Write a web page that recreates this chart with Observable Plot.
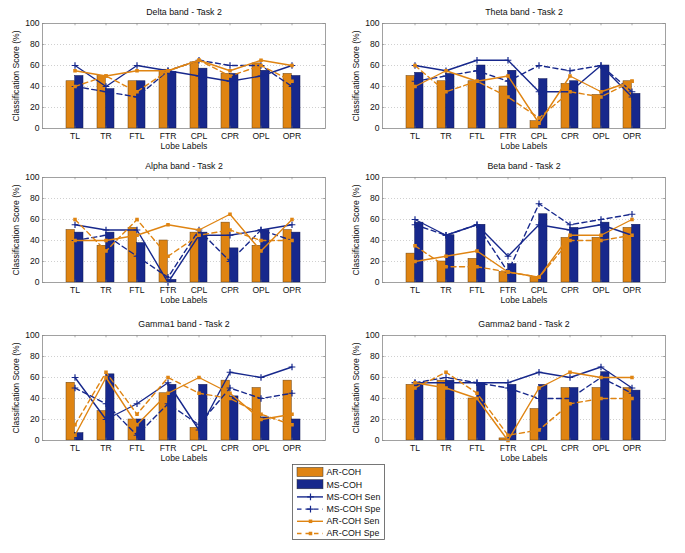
<!DOCTYPE html>
<html><head><meta charset="utf-8">
<script src="https://cdn.jsdelivr.net/npm/d3@7"></script>
<script src="https://cdn.jsdelivr.net/npm/@observablehq/plot@0.6"></script>
<style>
body{margin:0;background:#fff;}
#wrap{position:relative;width:685px;height:553px;overflow:hidden;background:#fff;}
.panel{position:absolute;}
.panel svg{overflow:visible;background:transparent;}
</style></head><body><div id="wrap"></div>
<script>
const lobes = ["TL","TR","FTL","FTR","CPL","CPR","OPL","OPR"];
const yTicks = [0,20,40,60,80,100];
const gridValues = [20,40,60,80];
const legendLabels = ["AR-COH","MS-COH","MS-COH Sen","MS-COH Spe","AR-COH Sen","AR-COH Spe"];

// Delta band
const deltaAR    = [45,50,45,56,63,52,62,52];
const deltaMS    = [50,37.5,45,54,57,52,55,50];
const deltaMSSen = [60,40,60,55,50,45,50,60];
const deltaMSSpe = [40,35,30,55,65,60,60,40];
const deltaARSen = [55,50,55,55,65,55,65,60];
const deltaARSpe = [40,50,35,55,65,50,60,45];
// Theta band
const thetaAR    = [50,45,45,40,7,42.5,32,45];
const thetaMS    = [53,52,60,55,47,45,60,33];
const thetaMSSen = [60,55,65,65,35,35,60,30];
const thetaMSSpe = [45,50,55,45,60,55,60,35];
const thetaARSen = [40,55,45,50,5,50,35,45];
const thetaARSpe = [60,35,45,30,10,35,30,45];
// Alpha band
const alphaAR    = [50,35,52,40,47.5,57,35,50];
const alphaMS    = [47.5,47.5,37.5,2.5,47.5,32.5,50,47.5];
const alphaMSSen = [55,50,50,0,45,45,50,55];
const alphaMSSpe = [40,45,25,5,50,20,50,40];
const alphaARSen = [40,40,45,55,50,65,30,60];
const alphaARSpe = [60,30,60,25,45,50,40,40];
// Beta band
const betaAR    = [27.5,20,22.5,10,5,42.5,42.5,52];
const betaMS    = [57,45,55,17.5,65,52,57,55];
const betaMSSen = [60,45,55,25,55,50,55,45];
const betaMSSpe = [55,45,55,10,75,55,60,65];
const betaARSen = [20,25,30,10,5,45,45,60];
const betaARSpe = [35,15,15,10,5,40,40,45];
// Gamma1 band
const gamma1AR    = [55,28,20,45,12,57,50,57];
const gamma1MS    = [7,63,20,53,53,42,22,20];
const gamma1MSSen = [60,20,35,55,10,65,60,70];
const gamma1MSSpe = [50,35,5,35,15,50,40,45];
const gamma1ARSen = [5,60,15,45,60,45,20,25];
const gamma1ARSpe = [15,65,25,60,45,40,25,15];
// Gamma2 band
const gamma2AR    = [53,57,40,2,30,50,50,50];
const gamma2MS    = [55,57,55,53,53,50,65,47.5];
const gamma2MSSen = [55,55,55,55,65,60,70,50];
const gamma2MSSpe = [55,60,55,50,40,40,60,45];
const gamma2ARSen = [55,50,40,0,50,65,60,60];
const gamma2ARSpe = [50,65,45,5,10,35,40,40];

const ORANGE = "#DF8412";
const NAVY = "#17288C";
const FONT = "'Liberation Sans', Arial, Helvetica, sans-serif";

const W = 340, ML = 42, MR = 15, MT = 23, MB = 27, H = 155;
const PW = W - ML - MR;
const PAD_IN = 0.45, PAD_OUT = 0.725;
const STEP = PW / (lobes.length - PAD_IN + 2 * PAD_OUT);
const BW = STEP * (1 - PAD_IN);

function panel(title, ar, ms, msSen, msSpe, arSen, arSpe) {
  const bars = lobes.map((l, i) => ({lobe: l, ar: ar[i], ms: ms[i]}));
  const pts = (vals) => lobes.map((l, i) => ({lobe: l, v: vals[i]}));
  const lw = 1.4;
  return Plot.plot({
    width: W, height: H,
    marginLeft: ML, marginRight: MR, marginTop: MT, marginBottom: MB,
    style: {fontFamily: FONT, fontSize: "8.6px", background: "transparent", color: "#111", overflow: "visible"},
    x: {type: "band", domain: lobes, paddingInner: PAD_IN, paddingOuter: PAD_OUT, align: 0.5, tickSize: 0, tickPadding: 4.5, label: null},
    y: {domain: [0, 100], ticks: yTicks, tickSize: 0, tickPadding: 3, label: null},
    marks: [
      Plot.ruleY(gridValues, {stroke: "#c4c4c4", strokeDasharray: "1,2", strokeWidth: 0.8}),
      Plot.barY(bars, {x: "lobe", y: "ar", fill: ORANGE, stroke: "#6a4210", strokeWidth: 0.5, insetRight: BW / 2}),
      Plot.barY(bars, {x: "lobe", y: "ms", fill: NAVY, stroke: "#0c1550", strokeWidth: 0.5, insetLeft: BW / 2}),
      Plot.ruleX(lobes, {x: d => d, y1: 0, y2: 2.2, stroke: "#777", strokeWidth: 0.6}),
      Plot.ruleX(lobes, {x: d => d, y1: 97.8, y2: 100, stroke: "#777", strokeWidth: 0.6}),
      Plot.tickY(yTicks, {y: d => d, insetRight: PW - 2.5, stroke: "#777", strokeWidth: 0.6}),
      Plot.tickY(yTicks, {y: d => d, insetLeft: PW - 2.5, stroke: "#777", strokeWidth: 0.6}),
      Plot.line(pts(msSen), {x: "lobe", y: "v", stroke: NAVY, strokeWidth: lw}),
      Plot.dot(pts(msSen), {x: "lobe", y: "v", symbol: "plus", r: 2.3, stroke: NAVY, strokeWidth: 1.2}),
      Plot.line(pts(msSpe), {x: "lobe", y: "v", stroke: NAVY, strokeWidth: lw, strokeDasharray: "5,3.5"}),
      Plot.dot(pts(msSpe), {x: "lobe", y: "v", symbol: "plus", r: 2.3, stroke: NAVY, strokeWidth: 1.2}),
      Plot.line(pts(arSen), {x: "lobe", y: "v", stroke: ORANGE, strokeWidth: lw}),
      Plot.dot(pts(arSen), {x: "lobe", y: "v", symbol: "square", r: 2.0, fill: ORANGE}),
      Plot.line(pts(arSpe), {x: "lobe", y: "v", stroke: ORANGE, strokeWidth: lw, strokeDasharray: "5,3.5"}),
      Plot.dot(pts(arSpe), {x: "lobe", y: "v", symbol: "square", r: 2.0, fill: ORANGE}),
      Plot.frame({stroke: "#8a8a8a", strokeWidth: 0.8}),
      Plot.text([title], {frameAnchor: "top", dy: -11, lineAnchor: "middle", textAnchor: "middle", fontSize: 8.8}),
      Plot.text(["Lobe Labels"], {frameAnchor: "bottom", dy: 17.5, lineAnchor: "middle", textAnchor: "middle", fontSize: 8.6}),
      Plot.text(["Classification Score (%)"], {frameAnchor: "left", dx: -26, rotate: -90, lineAnchor: "middle", textAnchor: "middle", fontSize: 8.6})
    ]
  });
}

const panels = [
  ["Delta band - Task 2", deltaAR, deltaMS, deltaMSSen, deltaMSSpe, deltaARSen, deltaARSpe, 0, 0],
  ["Theta band - Task 2", thetaAR, thetaMS, thetaMSSen, thetaMSSpe, thetaARSen, thetaARSpe, 340, 0],
  ["Alpha band - Task 2", alphaAR, alphaMS, alphaMSSen, alphaMSSpe, alphaARSen, alphaARSpe, 0, 154],
  ["Beta band - Task 2", betaAR, betaMS, betaMSSen, betaMSSpe, betaARSen, betaARSpe, 340, 154],
  ["Gamma1 band - Task 2", gamma1AR, gamma1MS, gamma1MSSen, gamma1MSSpe, gamma1ARSen, gamma1ARSpe, 0, 312],
  ["Gamma2 band - Task 2", gamma2AR, gamma2MS, gamma2MSSen, gamma2MSSpe, gamma2ARSen, gamma2ARSpe, 340, 312]
];

const wrap = document.getElementById("wrap");
for (const p of panels) {
  const div = document.createElement("div");
  div.className = "panel";
  div.style.left = p[7] + "px";
  div.style.top = p[8] + "px";
  div.appendChild(panel(p[0], p[1], p[2], p[3], p[4], p[5], p[6]));
  wrap.appendChild(div);
}

// Legend
const LW = 92, LH = 75, ROW0 = 8, ROWSTEP = 12.2;
const legendColors = [ORANGE, NAVY, NAVY, NAVY, ORANGE, ORANGE];
const legendKinds = ["patch", "patch", "solid", "dashed", "solid", "dashed"];
const legendMarkers = [null, null, "plus", "plus", "square", "square"];
const entries = legendLabels.map((label, i) => ({
  label, color: legendColors[i], kind: legendKinds[i], marker: legendMarkers[i], cy: ROW0 + i * ROWSTEP
}));
const legend = Plot.plot({
  width: LW, height: LH, margin: 0,
  style: {fontFamily: FONT, fontSize: "8.8px", background: "#fff", color: "#111", overflow: "visible"},
  x: {domain: [0, LW], range: [0, LW], axis: null},
  y: {domain: [0, LH], range: [0, LH], axis: null},
  color: {type: "identity"},
  marks: [
    Plot.rect(entries.filter(d => d.kind === "patch"), {x1: 5, x2: 31, y1: d => d.cy - 4.6, y2: d => d.cy + 4.6, fill: "color", stroke: "#333", strokeWidth: 0.5}),
    Plot.ruleY(entries.filter(d => d.kind === "solid"), {y: "cy", x1: 5, x2: 31, stroke: "color", strokeWidth: 1.4}),
    Plot.ruleY(entries.filter(d => d.kind === "dashed"), {y: "cy", x1: 5, x2: 31, stroke: "color", strokeWidth: 1.4, strokeDasharray: "4.5,4"}),
    Plot.dot(entries.filter(d => d.marker === "plus"), {x: 18, y: "cy", symbol: "plus", r: 2.3, stroke: "color", strokeWidth: 1.2}),
    Plot.dot(entries.filter(d => d.marker === "square"), {x: 18, y: "cy", symbol: "square", r: 2.0, fill: "color"}),
    Plot.text(entries, {x: 34, y: "cy", text: "label", textAnchor: "start", lineAnchor: "middle", fill: "#111"}),
    Plot.frame({stroke: "#555", strokeWidth: 0.8})
  ]
});
const ldiv = document.createElement("div");
ldiv.className = "panel";
ldiv.style.left = "292px";
ldiv.style.top = "464px";
ldiv.appendChild(legend);
wrap.appendChild(ldiv);
</script>
</body></html>
